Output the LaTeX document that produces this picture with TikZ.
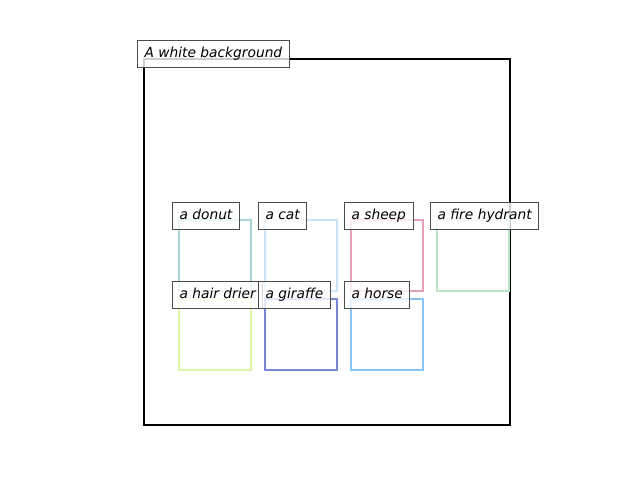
\documentclass[tikz,border=0pt]{standalone}
\usepackage{fontspec}
\setmainfont{DejaVu Sans}
\usepackage{xcolor}
\usepackage{tikz}

\definecolor{donutcol}{HTML}{A9D4D6}
\definecolor{catcol}{HTML}{C8E4F8}
\definecolor{sheepcol}{HTML}{E6A0BE}
\definecolor{hydrantcol}{HTML}{B9E6C3}
\definecolor{driercol}{HTML}{DCF5A0}
\definecolor{giraffecol}{HTML}{7686D6}
\definecolor{horsecol}{HTML}{88C4FA}

\tikzset{
  objbox/.style={line width=1.6pt},
  caption/.style={anchor=west, draw=black!70, fill=white, fill opacity=0.8,
    text opacity=1, line width=0.7pt, inner xsep=5pt, inner ysep=0pt,
    text height=7.6pt, text depth=2.3pt,
    minimum height=19.8pt, font=\fontsize{9.8}{11}\selectfont\itshape}
}

\begin{document}
\begin{tikzpicture}[x=0.025cm, y=-0.025cm]
\useasboundingbox (0,0) rectangle (640,480);

% the whole frame
\draw[line width=1.4pt] (144,59) rectangle (510,425);

% object boxes
\draw[objbox, donutcol] (179,220) rectangle (251,291);
\draw[objbox, catcol] (265,220) rectangle (337,291);
\draw[objbox, sheepcol] (351,220) rectangle (423,291);
\draw[objbox, hydrantcol] (437,220) rectangle (509,291);
\draw[objbox, driercol] (179,299) rectangle (251,370);
\draw[objbox, giraffecol] (265,299) rectangle (337,370);
\draw[objbox, horsecol] (351,299) rectangle (423,370);

% captions
\node[caption] (bg) at (137,54) {A white background};
\node[caption] (donut) at (172,216) {a donut};
\node[caption] (cat) at (258,216) {a cat};
\node[caption] (sheep) at (344,216) {a sheep};
\node[caption] (hydrant) at (430,216) {a fire hydrant};
\node[caption] (drier) at (172,295) {a hair drier};
\node[caption] (giraffe) at (258,295) {a giraffe};
\node[caption] (horse) at (344,295) {a horse};

\end{tikzpicture}
\end{document}
